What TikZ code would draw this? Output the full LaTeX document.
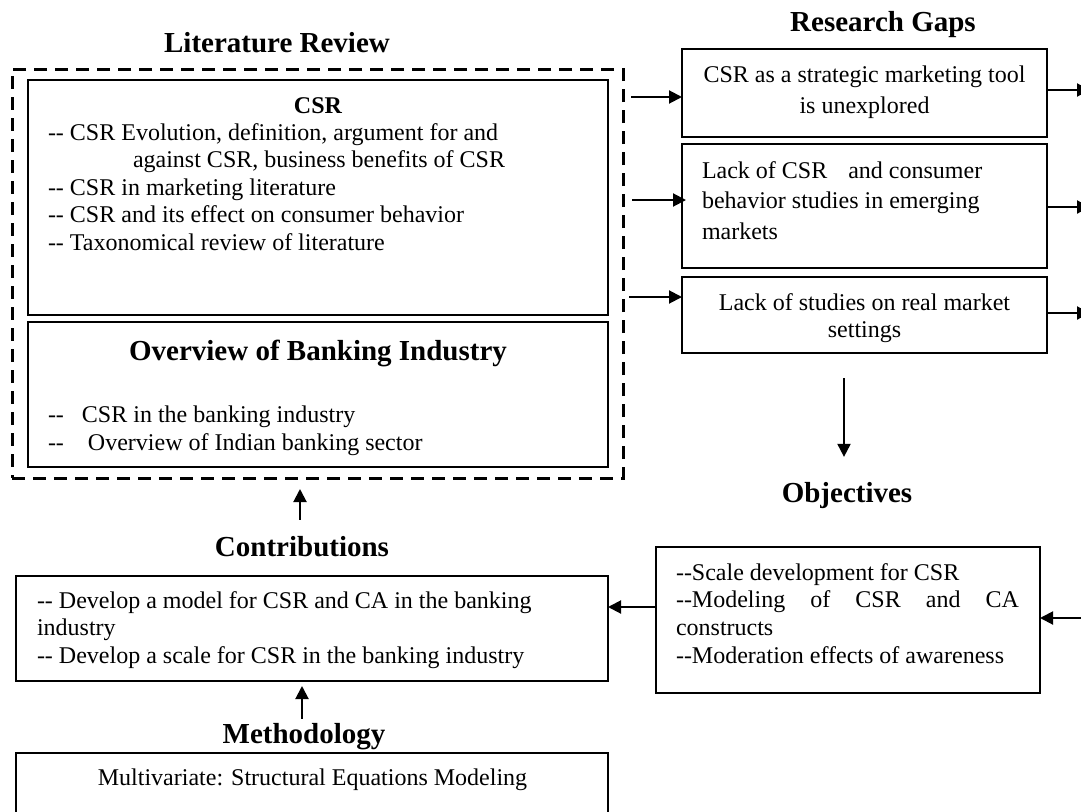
\documentclass[tikz,border=0pt]{standalone}
\usepackage{fontspec}
\setmainfont{Liberation Serif}
\usetikzlibrary{arrows.meta,calc}
% two plain hyphens, kept apart so they do not become an en dash
\newcommand{\dbl}{-\kern0pt-}
\begin{document}
\begin{tikzpicture}[x=1pt,y=-1pt,
  frame/.style={draw, line width=2.8pt, inner sep=0pt, outer sep=0pt},
  group/.style={draw, line width=3pt, dash pattern=on 13pt off 8pt, inner sep=0pt, outer sep=0pt},
  body/.style={font=\fontsize{24}{27}\selectfont, inner sep=0pt, outer sep=0pt},
  heading/.style={font=\fontsize{29}{33}\selectfont\bfseries, inner sep=0pt, outer sep=0pt},
  link/.style={line width=2pt, -{Triangle[length=13pt,width=13pt]}}]
\useasboundingbox (0,0) rectangle (1081,811);
\clip (0,0) rectangle (1081,811);

% ---------- literature review block ----------
\node[heading, anchor=base] (t-lit) at (277,52) {Literature Review};
\node[group, minimum width=611pt, minimum height=409pt] (lit) at (317.5,273.5) {};
\node[frame, minimum width=580pt, minimum height=235pt] (csr) at (318,197.5) {};
\node[frame, minimum width=580pt, minimum height=145pt] (bank) at (318,394.5) {};

\node[body, anchor=base, font=\fontsize{24}{27}\selectfont\bfseries] (csr-h) at (318,113) {CSR};
\node[body, anchor=base west] (csr-1) at (48,140) {\dbl{} CSR Evolution, definition, argument for and};
\node[body, anchor=base west] (csr-2) at (133,167.5) {against CSR, business benefits of CSR};
\node[body, anchor=base west] (csr-3) at (48,195) {\dbl{} CSR in marketing literature};
\node[body, anchor=base west] (csr-4) at (48,222.5) {\dbl{} CSR and its effect on consumer behavior};
\node[body, anchor=base west] (csr-5) at (48,250) {\dbl{} Taxonomical review of literature};

\node[heading, anchor=base] (bank-h) at (318,360) {Overview of Banking Industry};
\node[body, anchor=base west] (bank-1) at (48,422) {\dbl\hspace{18pt}CSR in the banking industry};
\node[body, anchor=base west] (bank-2) at (48,450) {\dbl\hspace{24pt}Overview of Indian banking sector};

% ---------- research gaps ----------
\node[heading, anchor=base] (t-gap) at (883,31) {Research Gaps};
\node[frame, minimum width=365pt, minimum height=88pt] (gap1) at (864.5,93) {};
\node[frame, minimum width=365pt, minimum height=124pt] (gap2) at (864.5,206) {};
\node[frame, minimum width=365pt, minimum height=76pt] (gap3) at (864.5,315) {};

\node[body, anchor=base] (gap1-1) at (864.5,82) {CSR as a strategic marketing tool};
\node[body, anchor=base] (gap1-2) at (864.5,113) {is unexplored};
\node[body, anchor=base west] (gap2-1) at (702,178) {Lack of CSR\hspace{21pt}and consumer};
\node[body, anchor=base west] (gap2-2) at (702,208) {behavior studies in emerging};
\node[body, anchor=base west] (gap2-3) at (702,239) {markets};
\node[body, anchor=base] (gap3-1) at (864.5,310) {Lack of studies on real market};
\node[body, anchor=base] (gap3-2) at (864.5,337) {settings};

% ---------- objectives ----------
\node[heading, anchor=base] (t-obj) at (847,502) {Objectives};
\node[frame, minimum width=384pt, minimum height=146pt] (obj) at (848,620) {};
\node[body, anchor=base west] (obj-1) at (676,580) {\dbl Scale development for CSR};
\node[body, anchor=base west] (obj-2) at (676,607) {\makebox[343pt][s]{\dbl Modeling of CSR and CA}};
\node[body, anchor=base west] (obj-3) at (676,635) {constructs};
\node[body, anchor=base west] (obj-4) at (676,663) {\dbl Moderation effects of awareness};

% ---------- contributions ----------
\node[heading, anchor=base] (t-con) at (302,556) {Contributions};
\node[frame, minimum width=592pt, minimum height=105pt] (con) at (312,628.5) {};
\node[body, anchor=base west] (con-1) at (37,608) {\dbl{} Develop a model for CSR and CA in the banking};
\node[body, anchor=base west] (con-2) at (37,635) {industry};
\node[body, anchor=base west] (con-3) at (37,663) {\dbl{} Develop a scale for CSR in the banking industry};

% ---------- methodology (box runs past the lower edge) ----------
\node[heading, anchor=base] (t-met) at (304,743) {Methodology};
\node[frame, minimum width=592pt, minimum height=87pt] (met) at (312,796.5) {};
\node[body, anchor=base] (met-1) at (312.5,785) {Multivariate: Structural Equations Modeling};

% ---------- connectors ----------
\coordinate (in1) at (631,97);
\coordinate (in2) at (632,200);
\coordinate (in3) at (629,297);
\draw[link] (in1) -- (in1 -| gap1.west);
\draw[link] (in2) -- ($(in2 -| gap2.west)+(4,0)$);
\draw[link] (in3) -- (in3 -| gap3.west);

\coordinate (out1) at (1090,90);
\coordinate (out2) at (1090,207);
\coordinate (out3) at (1090,313);
\draw[link] (out1 -| gap1.east) -- (out1);
\draw[link] (out2 -| gap2.east) -- (out2);
\draw[link] (out3 -| gap3.east) -- (out3);

\draw[link] ($(gap3.south)+(-20.5,25)$) -- ($(t-obj.north)+(-3,-25)$);

\coordinate (objin) at (1092,618);
\draw[link] (objin) -- (objin -| obj.east);
\draw[link] ($(obj.west)+(0,-13)$) -- ($(obj.west -| con.east)+(0,-13)$);

\draw[link] ($(t-con.north)+(-2,-16)$) -- ($(lit.south -| t-con.north)+(-2,11)$);
\draw[link] ($(t-met.north)+(-2,-4)$) -- ($(con.south -| t-met.north)+(-2,5)$);
\end{tikzpicture}
\end{document}
